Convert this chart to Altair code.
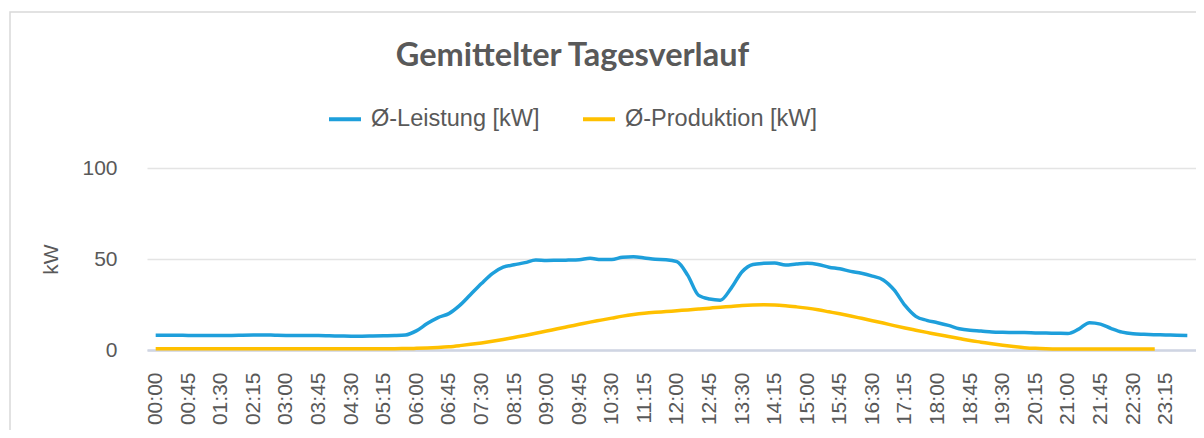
import altair as alt
import pandas as pd

# 15-minute categories of the day
times = [f"{h:02d}:{m:02d}" for h in range(24) for m in (0, 15, 30, 45)]

series_names = ["Ø-Leistung [kW]", "Ø-Produktion [kW]"]
series_colors = ["#1E9FDB", "#FFC000"]

leistung = [
    8.1, 8.1, 8.1, 8.0, 8.0, 8.0, 8.0, 8.0, 8.1, 8.2, 8.3, 8.1,
    8.0, 7.9, 7.9, 7.9, 7.8, 7.7, 7.6, 7.6, 7.7, 7.8, 7.9, 8.2,
    10.5, 14.5, 17.8, 20.0, 24.5, 30.5, 36.5, 42.0, 45.5, 46.8, 48.0, 49.4,
    49.2, 49.3, 49.4, 49.6, 50.4, 49.7, 49.7, 51.0, 51.2, 50.6, 49.8, 49.6,
    48.5, 41.0, 30.0, 28.0, 27.4, 34.0, 43.0, 47.0, 47.6, 47.8, 46.7, 47.2,
    47.6, 47.0, 45.5, 44.6, 43.2, 42.2, 40.6, 38.5, 33.0, 24.5, 18.5, 16.3,
    15.0, 13.5, 11.7, 10.8, 10.4, 9.9, 9.7, 9.6, 9.6, 9.4, 9.3, 9.2,
    9.1, 11.5, 15.0, 14.2, 11.8, 9.8, 8.9, 8.6, 8.4, 8.3, 8.1, 8.0,
]

produktion = [
    0.7, 0.7, 0.7, 0.7, 0.7, 0.7, 0.7, 0.7, 0.7, 0.7, 0.7, 0.7,
    0.7, 0.7, 0.7, 0.7, 0.7, 0.7, 0.7, 0.7, 0.7, 0.7, 0.7, 0.8,
    0.9, 1.1, 1.4, 1.8, 2.4, 3.1, 3.9, 4.8, 5.8, 6.9, 8.0, 9.2,
    10.4, 11.7, 12.9, 14.1, 15.3, 16.4, 17.5, 18.6, 19.5, 20.2, 20.7, 21.1,
    21.6, 22.0, 22.5, 23.0, 23.5, 23.9, 24.4, 24.7, 24.8, 24.7, 24.3, 23.7,
    23.0, 22.1, 21.0, 19.9, 18.7, 17.4, 16.1, 14.8, 13.4, 12.1, 10.9, 9.7,
    8.5, 7.4, 6.3, 5.2, 4.3, 3.4, 2.6, 1.9, 1.3, 0.9, 0.7, 0.6,
    0.6, 0.6, 0.6, 0.6, 0.6, 0.6, 0.6, 0.6, 0.6, None, None, None,
]

x_tick_labels = times[::3]
y_ticks = [0, 50, 100]

rows = []
for name, vals in zip(series_names, [leistung, produktion]):
    for t, v in zip(times, vals):
        if v is not None:
            rows.append({"Zeit": t, "Serie": name, "Wert": v})
df = pd.DataFrame(rows)

GRAY = "#595959"
LABEL_FONT = "Liberation Sans"

lines = alt.Chart(df).mark_line(strokeWidth=3.5, interpolate="monotone").encode(
    x=alt.X(
        "Zeit:O",
        sort=times,
        scale=alt.Scale(type="point", padding=0.8),
        axis=alt.Axis(
            values=x_tick_labels,
            labelAngle=270,
            labelFontSize=21,
            labelFont=LABEL_FONT,
            labelColor=GRAY,
            labelPadding=22,
            labelOverlap=False,
            ticks=False,
            grid=False,
            domainColor="#CFD5E3",
            domainWidth=2.5,
            title=None,
        ),
    ),
    y=alt.Y(
        "Wert:Q",
        scale=alt.Scale(domain=[0, 100], nice=False),
        axis=alt.Axis(
            values=y_ticks,
            labelFontSize=21,
            labelFont=LABEL_FONT,
            labelColor=GRAY,
            labelPadding=30,
            ticks=False,
            domain=False,
            gridColor="#E4E4E4",
            gridWidth=1.5,
            title="kW",
            titleFont=LABEL_FONT,
            titleFontSize=21,
            titleFontWeight="normal",
            titleColor=GRAY,
            titlePadding=20,
        ),
    ),
    color=alt.Color(
        "Serie:N",
        scale=alt.Scale(domain=series_names, range=series_colors),
        legend=alt.Legend(
            orient="none",
            legendX=180,
            legendY=-67,
            direction="horizontal",
            title=None,
            symbolType="stroke",
            symbolSize=1024,
            symbolStrokeWidth=4,
            labelFontSize=23.5,
            labelFont=LABEL_FONT,
            labelColor=GRAY,
            labelOffset=8,
            columnPadding=35,
            labelLimit=400,
        ),
    ),
)

border = alt.Chart(pd.DataFrame({"k": [0]})).mark_rect(
    fillOpacity=0, stroke="#D9D9D9", strokeWidth=1.5
).encode(
    x=alt.value(-137), x2=alt.value(1080), y=alt.value(-156), y2=alt.value(300)
)

chart = alt.layer(border, lines).properties(
    width=1049,
    height=182,
    background="white",
    autosize=alt.AutoSizeParams(type="none"),
    padding={"left": 139, "top": 160, "right": 0, "bottom": 80},
    title=alt.TitleParams(
        "Gemittelter Tagesverlauf",
        font="Lato",
        fontSize=32.5,
        fontWeight="bold",
        color=GRAY,
        anchor="middle",
        dx=-99,
        offset=0,
        dy=87,
        baseline="alphabetic",
    ),
).configure_view(strokeWidth=0, strokeOpacity=0)

chart.save("out.html", embed_options={"renderer": "svg", "actions": False})
